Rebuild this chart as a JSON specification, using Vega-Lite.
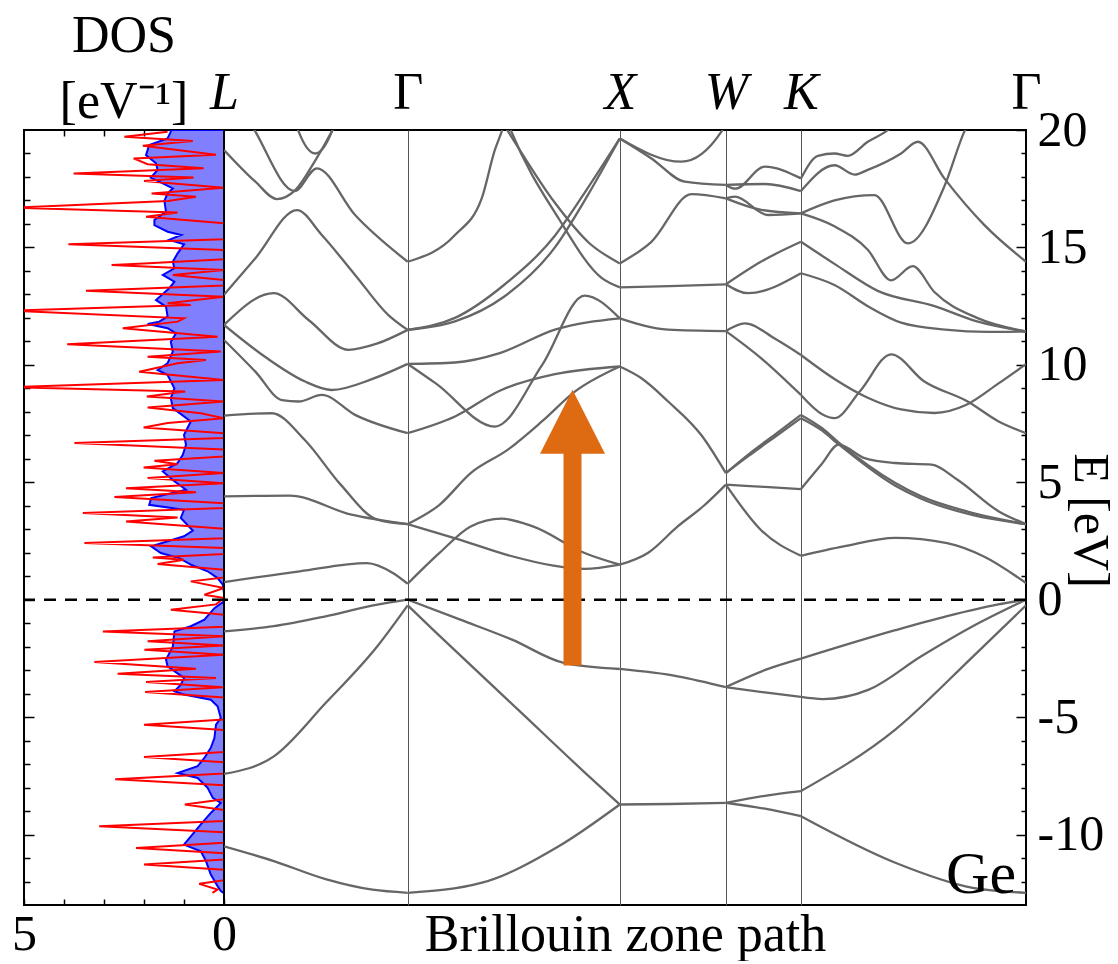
{
"$schema": "https://vega.github.io/schema/vega-lite/v6.json",
"background": "white",
"padding": {"left": 10, "top": 9, "right": 6, "bottom": 0},
"config": {
 "font": "Liberation Serif",
 "view": {"stroke": "black", "strokeWidth": 2},
 "axis": {"labelFont": "Liberation Serif", "titleFont": "Liberation Serif", "labelColor": "black", "titleColor": "black", "tickColor": "black", "tickWidth": 1.5, "domain": false, "grid": false, "labelFontSize": 50, "titleFontSize": 52, "titleFontWeight": "normal", "labelOverlap": false},
 "title": {"font": "Liberation Serif", "fontSize": 52, "fontWeight": "normal", "color": "black"}
},
"datasets": {
 "dosB": [
  {"E":20,"d":1.33},{"E":19.93,"d":1.33},{"E":19.64,"d":1.41},{"E":19.36,"d":1.87},{"E":18.93,"d":1.95},{"E":18.58,"d":1.7},{"E":18.3,"d":1.66},{"E":17.97,"d":1.83},{"E":17.73,"d":1.53},{"E":17.51,"d":1.28},{"E":17.3,"d":1.41},{"E":16.98,"d":1.49},{"E":16.52,"d":1.45},{"E":16.17,"d":1.74},{"E":15.95,"d":1.74},{"E":15.67,"d":1.41},{"E":15.53,"d":1.07},{"E":15.32,"d":1.37},{"E":15.13,"d":1.0},{"E":14.75,"d":1.16},{"E":14.39,"d":1.28},{"E":14.11,"d":1.24},{"E":13.83,"d":1.53},{"E":13.54,"d":1.24},{"E":13.26,"d":1.37},{"E":12.76,"d":1.7},{"E":12.48,"d":1.45},{"E":12.05,"d":1.41},{"E":11.84,"d":1.62},{"E":11.74,"d":1.91},{"E":11.56,"d":1.41},{"E":11.34,"d":1.2},{"E":10.99,"d":1.33},{"E":10.56,"d":1.28},{"E":10.07,"d":1.41},{"E":9.78,"d":1.66},{"E":9.57,"d":1.41},{"E":9.0,"d":1.24},{"E":8.58,"d":1.33},{"E":8.16,"d":1.28},{"E":7.59,"d":0.83},{"E":7.02,"d":1.0},{"E":6.6,"d":0.95},{"E":6.17,"d":1.03},{"E":5.82,"d":1.16},{"E":5.46,"d":1.53},{"E":5.04,"d":1.24},{"E":4.68,"d":0.95},{"E":4.33,"d":1.82},{"E":4.04,"d":1.87},{"E":3.83,"d":1.0},{"E":3.48,"d":1.08},{"E":2.94,"d":0.78},{"E":2.7,"d":1.0},{"E":2.27,"d":1.82},{"E":1.99,"d":1.58},{"E":1.77,"d":1.12},{"E":1.49,"d":0.83},{"E":1.21,"d":0.41},{"E":0.92,"d":0.16},{"E":0.64,"d":0.03},{"E":0.28,"d":0},{"E":-0.07,"d":0},{"E":-0.36,"d":0.24},{"E":-0.85,"d":0.49},{"E":-1.13,"d":0.83},{"E":-1.35,"d":1.24},{"E":-1.7,"d":1.26},{"E":-2.0,"d":1.28},{"E":-2.55,"d":1.45},{"E":-2.84,"d":1.41},{"E":-3.33,"d":1.0},{"E":-3.62,"d":1.08},{"E":-3.9,"d":1.24},{"E":-4.04,"d":1.0},{"E":-4.26,"d":0.33},{"E":-4.54,"d":0.16},{"E":-5.04,"d":0.08},{"E":-5.32,"d":0.2},{"E":-5.89,"d":0.24},{"E":-6.31,"d":0.33},{"E":-6.74,"d":0.49},{"E":-7.09,"d":0.66},{"E":-7.38,"d":1.16},{"E":-7.59,"d":0.66},{"E":-8.01,"d":0.41},{"E":-8.44,"d":0.28},{"E":-8.65,"d":0.08},{"E":-9.08,"d":0.33},{"E":-9.57,"d":0.58},{"E":-10.43,"d":1.0},{"E":-10.71,"d":0.58},{"E":-11.13,"d":0.45},{"E":-11.7,"d":0.33},{"E":-12.2,"d":0.16},{"E":-12.41,"d":0.08},{"E":-12.5,"d":0}
 ],
 "dosR": [
  {"E":19.93,"d":1.41},{"E":19.71,"d":2.49},{"E":19.53,"d":0.78},{"E":19.33,"d":2.03},{"E":18.95,"d":0.2},{"E":18.79,"d":2.26},{"E":18.54,"d":1.91},{"E":18.37,"d":0.51},{"E":18.15,"d":3.76},{"E":17.98,"d":0.76},{"E":17.83,"d":2.0},{"E":17.54,"d":0},{"E":17.3,"d":1.81},{"E":17.16,"d":0.7},{"E":16.98,"d":1.4},{"E":16.69,"d":5.3},{"E":16.49,"d":1.16},{"E":16.31,"d":1.95},{"E":16.03,"d":0},{"E":15.35,"d":0},{"E":15.13,"d":3.89},{"E":14.89,"d":0},{"E":14.5,"d":0},{"E":14.32,"d":2.0},{"E":14.25,"d":2.81},{"E":14.04,"d":0},{"E":13.83,"d":1.28},{"E":13.61,"d":0},{"E":13.38,"d":0},{"E":13.16,"d":3.45},{"E":12.9,"d":0},{"E":12.62,"d":1.41},{"E":12.55,"d":0.83},{"E":12.31,"d":5.3},{"E":11.98,"d":1.0},{"E":11.84,"d":1.16},{"E":11.56,"d":2.53},{"E":11.2,"d":0.16},{"E":10.88,"d":3.92},{"E":10.57,"d":0.08},{"E":10.35,"d":1.91},{"E":10.21,"d":0.45},{"E":10.07,"d":1.16},{"E":9.71,"d":2.12},{"E":9.35,"d":0},{"E":9.05,"d":5.3},{"E":8.87,"d":0.97},{"E":8.65,"d":1.93},{"E":8.44,"d":0},{"E":8.18,"d":1.91},{"E":7.94,"d":0.58},{"E":7.73,"d":0},{"E":7.52,"d":1.41},{"E":7.33,"d":2.01},{"E":7.09,"d":0},{"E":6.88,"d":0},{"E":6.67,"d":3.74},{"E":6.4,"d":0},{"E":6.1,"d":0},{"E":5.92,"d":1.74},{"E":5.77,"d":1.16},{"E":5.63,"d":2.01},{"E":5.39,"d":0},{"E":5.18,"d":1.91},{"E":4.96,"d":0},{"E":4.75,"d":2.45},{"E":4.58,"d":0.7},{"E":4.37,"d":2.74},{"E":4.11,"d":0},{"E":3.9,"d":0},{"E":3.69,"d":3.53},{"E":3.5,"d":1.16},{"E":3.33,"d":2.45},{"E":3.02,"d":0},{"E":2.62,"d":0},{"E":2.41,"d":3.49},{"E":2.2,"d":0},{"E":1.95,"d":0},{"E":1.8,"d":1.78},{"E":1.7,"d":1.0},{"E":1.52,"d":1.66},{"E":1.28,"d":0},{"E":0.95,"d":0},{"E":0.78,"d":0.83},{"E":0.5,"d":0},{"E":0.21,"d":0.49},{"E":0.07,"d":0},{"E":-0.2,"d":0.2},{"E":-0.43,"d":1.33},{"E":-0.64,"d":0},{"E":-1.15,"d":0},{"E":-1.35,"d":3.03},{"E":-1.56,"d":0},{"E":-1.77,"d":1.91},{"E":-1.95,"d":0},{"E":-2.13,"d":1.99},{"E":-2.34,"d":0},{"E":-2.65,"d":3.24},{"E":-2.94,"d":0.7},{"E":-3.15,"d":2.66},{"E":-3.33,"d":0.2},{"E":-3.5,"d":1.95},{"E":-3.73,"d":0.03},{"E":-3.93,"d":1.97},{"E":-4.16,"d":0},{"E":-5.1,"d":0},{"E":-5.32,"d":2.0},{"E":-5.55,"d":0},{"E":-6.48,"d":0},{"E":-6.7,"d":2.0},{"E":-6.92,"d":0},{"E":-7.4,"d":0},{"E":-7.65,"d":2.72},{"E":-7.9,"d":0},{"E":-8.5,"d":0},{"E":-8.72,"d":0.98},{"E":-8.95,"d":0},{"E":-9.42,"d":0},{"E":-9.65,"d":3.12},{"E":-9.9,"d":0},{"E":-10.35,"d":0},{"E":-10.57,"d":2.2},{"E":-10.8,"d":0},{"E":-11.06,"d":0},{"E":-11.28,"d":2.0},{"E":-11.5,"d":0},{"E":-11.95,"d":0},{"E":-12.1,"d":0.62},{"E":-12.34,"d":0.16},{"E":-12.48,"d":0.29}
 ],
 "bands": [
  {"s":"v1a","k":0,"E":-10.5},{"s":"v1a","k":0.235,"E":-11.13},{"s":"v1a","k":0.479,"E":-11.9},{"s":"v1a","k":0.7,"E":-12.35},{"s":"v1a","k":0.866,"E":-12.48},
  {"s":"v2a","k":0,"E":-7.42},{"s":"v2a","k":0.235,"E":-6.67},{"s":"v2a","k":0.479,"E":-4.4},{"s":"v2a","k":0.723,"E":-1.98},{"s":"v2a","k":0.866,"E":-0.24},
  {"s":"v3a","k":0,"E":-1.35},{"s":"v3a","k":0.235,"E":-1.13},{"s":"v3a","k":0.479,"E":-0.71},{"s":"v3a","k":0.723,"E":-0.21},{"s":"v3a","k":0.866,"E":0},
  {"s":"c1a","k":0,"E":0.75},{"s":"c1a","k":0.357,"E":1.21},{"s":"c1a","k":0.674,"E":1.56},{"s":"c1a","k":0.796,"E":1.14},{"s":"c1a","k":0.866,"E":0.68},
  {"s":"c2a","k":0,"E":4.4},{"s":"c2a","k":0.308,"E":4.43},{"s":"c2a","k":0.601,"E":3.62},{"s":"c2a","k":0.866,"E":3.22},
  {"s":"ga","k":0,"E":7.84},{"s":"ga","k":0.226,"E":7.94},{"s":"ga","k":0.38,"E":6.81},{"s":"ga","k":0.55,"E":4.9},{"s":"ga","k":0.723,"E":3.41},{"s":"ga","k":0.866,"E":3.22},
  {"s":"fa","k":0,"E":11.06},{"s":"fa","k":0.148,"E":9.71},{"s":"fa","k":0.273,"E":8.5},{"s":"fa","k":0.352,"E":8.44},{"s":"fa","k":0.461,"E":8.72},{"s":"fa","k":0.618,"E":7.87},{"s":"fa","k":0.866,"E":7.09},
  {"s":"ea","k":0,"E":11.7},{"s":"ea","k":0.2,"E":10.3},{"s":"ea","k":0.38,"E":9.3},{"s":"ea","k":0.508,"E":8.93},{"s":"ea","k":0.7,"E":9.4},{"s":"ea","k":0.866,"E":10.04},
  {"s":"da","k":0,"E":11.7},{"s":"da","k":0.234,"E":13.05},{"s":"da","k":0.4,"E":11.9},{"s":"da","k":0.587,"E":10.64},{"s":"da","k":0.72,"E":10.9},{"s":"da","k":0.866,"E":11.49},
  {"s":"ca","k":0,"E":12.98},{"s":"ca","k":0.148,"E":14.54},{"s":"ca","k":0.344,"E":16.59},{"s":"ca","k":0.461,"E":15.53},{"s":"ca","k":0.618,"E":13.83},{"s":"ca","k":0.775,"E":12.12},{"s":"ca","k":0.866,"E":11.49},
  {"s":"u2a","k":0.1,"E":20.7},{"s":"u2a","k":0.148,"E":19.93},{"s":"u2a","k":0.333,"E":17.4},{"s":"u2a","k":0.438,"E":18.37},{"s":"u2a","k":0.618,"E":16.38},{"s":"u2a","k":0.866,"E":14.39},
  {"s":"u1a","k":0,"E":19.15},{"s":"u1a","k":0.148,"E":17.8},{"s":"u1a","k":0.249,"E":17.06},{"s":"u1a","k":0.336,"E":17.44},{"s":"u1a","k":0.43,"E":18.7},{"s":"u1a","k":0.508,"E":19.93},{"s":"u1a","k":0.54,"E":20.5},
  {"s":"u3a","k":0.33,"E":20.5},{"s":"u3a","k":0.352,"E":19.93},{"s":"u3a","k":0.43,"E":19.0},{"s":"u3a","k":0.508,"E":19.93},{"s":"u3a","k":0.53,"E":20.5},
  {"s":"v1b","k":0.866,"E":-12.48},{"s":"v1b","k":1.212,"E":-12.06},{"s":"v1b","k":1.578,"E":-10.5},{"s":"v1b","k":1.866,"E":-8.72},
  {"s":"v2b","k":0.866,"E":-0.24},{"s":"v2b","k":1.0,"E":-1.4},{"s":"v2b","k":1.4,"E":-4.8},{"s":"v2b","k":1.7,"E":-7.35},{"s":"v2b","k":1.866,"E":-8.72},
  {"s":"v3b","k":0.866,"E":0},{"s":"v3b","k":1.114,"E":-0.85},{"s":"v3b","k":1.358,"E":-1.7},{"s":"v3b","k":1.602,"E":-2.69},{"s":"v3b","k":1.866,"E":-2.95},
  {"s":"c1b","k":0.866,"E":0.68},{"s":"c1b","k":1.016,"E":1.99},{"s":"c1b","k":1.163,"E":3.12},{"s":"c1b","k":1.309,"E":3.45},{"s":"c1b","k":1.456,"E":3.12},{"s":"c1b","k":1.7,"E":1.99},{"s":"c1b","k":1.866,"E":1.49},
  {"s":"c2b","k":0.866,"E":3.22},{"s":"c2b","k":1.114,"E":2.55},{"s":"c2b","k":1.358,"E":1.85},{"s":"c2b","k":1.553,"E":1.45},{"s":"c2b","k":1.7,"E":1.31},{"s":"c2b","k":1.866,"E":1.49},
  {"s":"c3b","k":0.866,"E":3.22},{"s":"c3b","k":1.016,"E":4.04},{"s":"c3b","k":1.163,"E":5.39},{"s":"c3b","k":1.34,"E":6.4},{"s":"c3b","k":1.5,"E":7.6},{"s":"c3b","k":1.654,"E":8.86},{"s":"c3b","k":1.866,"E":9.93},
  {"s":"fb","k":0.866,"E":7.09},{"s":"fb","k":1.089,"E":7.8},{"s":"fb","k":1.3,"E":8.9},{"s":"fb","k":1.56,"E":9.6},{"s":"fb","k":1.866,"E":9.93},
  {"s":"eb","k":0.866,"E":10.04},{"s":"eb","k":1.089,"E":10.1},{"s":"eb","k":1.3,"E":10.5},{"s":"eb","k":1.56,"E":11.5},{"s":"eb","k":1.866,"E":11.98},
  {"s":"db","k":0.866,"E":10.04},{"s":"db","k":1.0,"E":9.2},{"s":"db","k":1.277,"E":7.37},{"s":"db","k":1.5,"E":10.0},{"s":"db","k":1.7,"E":12.95},{"s":"db","k":1.866,"E":11.98},
  {"s":"cb1","k":0.866,"E":11.49},{"s":"cb1","k":1.089,"E":12.0},{"s":"cb1","k":1.32,"E":13.4},{"s":"cb1","k":1.56,"E":15.5},{"s":"cb1","k":1.72,"E":17.6},{"s":"cb1","k":1.866,"E":19.64},
  {"s":"cb2","k":0.866,"E":11.49},{"s":"cb2","k":1.089,"E":11.85},{"s":"cb2","k":1.32,"E":12.9},{"s":"cb2","k":1.56,"E":15.0},{"s":"cb2","k":1.72,"E":17.3},{"s":"cb2","k":1.866,"E":19.64},
  {"s":"u2b","k":0.866,"E":14.39},{"s":"u2b","k":1.089,"E":15.53},{"s":"u2b","k":1.215,"E":17.09},{"s":"u2b","k":1.277,"E":19.15},{"s":"u2b","k":1.309,"E":19.93},{"s":"u2b","k":1.33,"E":20.5},
  {"s":"t1b","k":1.3,"E":20.5},{"s":"t1b","k":1.34,"E":19.93},{"s":"t1b","k":1.56,"E":16.9},{"s":"t1b","k":1.72,"E":15.2},{"s":"t1b","k":1.866,"E":14.32},
  {"s":"t2b","k":1.33,"E":20.5},{"s":"t2b","k":1.355,"E":19.93},{"s":"t2b","k":1.58,"E":16.2},{"s":"t2b","k":1.78,"E":13.7},{"s":"t2b","k":1.866,"E":13.3},
  {"s":"v1c","k":1.866,"E":-8.72},{"s":"v1c","k":2.1,"E":-8.7},{"s":"v1c","k":2.366,"E":-8.65},
  {"s":"v3c","k":1.866,"E":-2.95},{"s":"v3c","k":2.139,"E":-3.26},{"s":"v3c","k":2.366,"E":-3.72},
  {"s":"c1c","k":1.866,"E":1.49},{"s":"c1c","k":2.0,"E":2.0},{"s":"c1c","k":2.139,"E":3.12},{"s":"c1c","k":2.262,"E":4.0},{"s":"c1c","k":2.366,"E":4.9},
  {"s":"c3c","k":1.866,"E":9.93},{"s":"c3c","k":1.968,"E":9.43},{"s":"c3c","k":2.094,"E":8.44},{"s":"c3c","k":2.251,"E":7.0},{"s":"c3c","k":2.366,"E":5.39},
  {"s":"ec","k":1.866,"E":11.98},{"s":"ec","k":2.094,"E":11.5},{"s":"ec","k":2.366,"E":11.44},
  {"s":"t2c","k":1.866,"E":13.3},{"s":"t2c","k":2.1,"E":13.35},{"s":"t2c","k":2.366,"E":13.43},
  {"s":"t1c","k":1.866,"E":14.32},{"s":"t1c","k":2.015,"E":15.24},{"s":"t1c","k":2.204,"E":17.27},{"s":"t1c","k":2.366,"E":17.09},
  {"s":"cc1","k":1.866,"E":19.64},{"s":"cc1","k":2.015,"E":18.79},{"s":"cc1","k":2.172,"E":17.8},{"s":"cc1","k":2.366,"E":17.66},
  {"s":"cc2","k":1.866,"E":19.64},{"s":"cc2","k":2.156,"E":18.65},{"s":"cc2","k":2.345,"E":19.93},{"s":"cc2","k":2.38,"E":20.5},
  {"s":"v1d1","k":2.366,"E":-8.65},{"s":"v1d1","k":2.55,"E":-8.9},{"s":"v1d1","k":2.72,"E":-9.22},
  {"s":"v1d2","k":2.366,"E":-8.65},{"s":"v1d2","k":2.55,"E":-8.35},{"s":"v1d2","k":2.72,"E":-8.15},
  {"s":"v3d1","k":2.366,"E":-3.72},{"s":"v3d1","k":2.55,"E":-3.95},{"s":"v3d1","k":2.72,"E":-4.14},
  {"s":"v3d2","k":2.366,"E":-3.72},{"s":"v3d2","k":2.555,"E":-2.98},{"s":"v3d2","k":2.72,"E":-2.51},
  {"s":"c1d1","k":2.366,"E":4.9},{"s":"c1d1","k":2.53,"E":2.98},{"s":"c1d1","k":2.72,"E":1.87},
  {"s":"c1d2","k":2.366,"E":4.9},{"s":"c1d2","k":2.55,"E":4.8},{"s":"c1d2","k":2.72,"E":4.71},
  {"s":"c3d1","k":2.366,"E":5.39},{"s":"c3d1","k":2.47,"E":6.17},{"s":"c3d1","k":2.6,"E":7.05},{"s":"c3d1","k":2.72,"E":7.87},
  {"s":"c3d2","k":2.366,"E":5.39},{"s":"c3d2","k":2.47,"E":6.1},{"s":"c3d2","k":2.6,"E":6.95},{"s":"c3d2","k":2.72,"E":7.73},
  {"s":"ed1","k":2.366,"E":11.44},{"s":"ed1","k":2.455,"E":11.77},{"s":"ed1","k":2.6,"E":11.1},{"s":"ed1","k":2.72,"E":10.42},
  {"s":"ed2","k":2.366,"E":11.44},{"s":"ed2","k":2.533,"E":10.28},{"s":"ed2","k":2.72,"E":8.72},
  {"s":"t2d1","k":2.366,"E":13.43},{"s":"t2d1","k":2.47,"E":13.05},{"s":"t2d1","k":2.72,"E":13.9},
  {"s":"t2d2","k":2.366,"E":13.43},{"s":"t2d2","k":2.533,"E":14.4},{"s":"t2d2","k":2.72,"E":15.24},
  {"s":"t1d1","k":2.366,"E":17.09},{"s":"t1d1","k":2.408,"E":17.16},{"s":"t1d1","k":2.565,"E":16.38},{"s":"t1d1","k":2.72,"E":16.45},
  {"s":"t1d2","k":2.366,"E":17.09},{"s":"t1d2","k":2.533,"E":16.6},{"s":"t1d2","k":2.72,"E":16.45},
  {"s":"cd1","k":2.366,"E":17.66},{"s":"cd1","k":2.41,"E":17.5},{"s":"cd1","k":2.549,"E":18.44},{"s":"cd1","k":2.72,"E":17.94},
  {"s":"cd2","k":2.366,"E":17.66},{"s":"cd2","k":2.55,"E":17.7},{"s":"cd2","k":2.72,"E":17.4},
  {"s":"v1e","k":2.72,"E":-9.22},{"s":"v1e","k":3.165,"E":-11.2},{"s":"v1e","k":3.53,"E":-12.27},{"s":"v1e","k":3.781,"E":-12.48},
  {"s":"v2e","k":2.72,"E":-8.15},{"s":"v2e","k":3.165,"E":-5.53},{"s":"v2e","k":3.532,"E":-2.41},{"s":"v2e","k":3.781,"E":-0.24},
  {"s":"v3e1","k":2.72,"E":-4.14},{"s":"v3e1","k":2.823,"E":-4.23},{"s":"v3e1","k":3.04,"E":-3.83},{"s":"v3e1","k":3.287,"E":-2.41},{"s":"v3e1","k":3.53,"E":-1.13},{"s":"v3e1","k":3.781,"E":0},
  {"s":"v3e2","k":2.72,"E":-2.51},{"s":"v3e2","k":3.165,"E":-1.3},{"s":"v3e2","k":3.409,"E":-0.7},{"s":"v3e2","k":3.65,"E":-0.2},{"s":"v3e2","k":3.781,"E":0},
  {"s":"c1e","k":2.72,"E":1.87},{"s":"c1e","k":2.921,"E":2.27},{"s":"c1e","k":3.165,"E":2.63},{"s":"c1e","k":3.409,"E":2.41},{"s":"c1e","k":3.58,"E":1.85},{"s":"c1e","k":3.781,"E":0.71},
  {"s":"c2e","k":2.72,"E":4.71},{"s":"c2e","k":2.82,"E":5.8},{"s":"c2e","k":2.897,"E":6.6},{"s":"c2e","k":3.02,"E":6.03},{"s":"c2e","k":3.165,"E":5.82},{"s":"c2e","k":3.336,"E":5.75},{"s":"c2e","k":3.458,"E":5.11},{"s":"c2e","k":3.653,"E":3.76},{"s":"c2e","k":3.781,"E":3.22},
  {"s":"c3e1","k":2.72,"E":7.87},{"s":"c3e1","k":2.82,"E":7.3},{"s":"c3e1","k":2.897,"E":6.7},{"s":"c3e1","k":3.165,"E":4.97},{"s":"c3e1","k":3.287,"E":4.4},{"s":"c3e1","k":3.532,"E":3.69},{"s":"c3e1","k":3.781,"E":3.22},
  {"s":"c3e2","k":2.72,"E":7.73},{"s":"c3e2","k":2.82,"E":7.2},{"s":"c3e2","k":2.897,"E":6.62},{"s":"c3e2","k":3.165,"E":4.85},{"s":"c3e2","k":3.287,"E":4.3},{"s":"c3e2","k":3.532,"E":3.6},{"s":"c3e2","k":3.781,"E":3.22},
  {"s":"ba","k":2.72,"E":10.42},{"s":"ba","k":2.878,"E":9.4},{"s":"ba","k":3.035,"E":8.6},{"s":"ba","k":3.192,"E":8.1},{"s":"ba","k":3.349,"E":7.95},{"s":"ba","k":3.5,"E":8.3},{"s":"ba","k":3.65,"E":9.2},{"s":"ba","k":3.781,"E":10.03},
  {"s":"bb","k":2.72,"E":8.72},{"s":"bb","k":2.82,"E":7.9},{"s":"bb","k":2.878,"E":7.73},{"s":"bb","k":3.0,"E":8.9},{"s":"bb","k":3.145,"E":10.45},{"s":"bb","k":3.3,"E":9.3},{"s":"bb","k":3.506,"E":8.44},{"s":"bb","k":3.65,"E":7.6},{"s":"bb","k":3.781,"E":7.09},
  {"s":"h6","k":2.72,"E":13.9},{"s":"h6","k":2.878,"E":13.4},{"s":"h6","k":3.035,"E":12.5},{"s":"h6","k":3.192,"E":11.8},{"s":"h6","k":3.4,"E":11.5},{"s":"h6","k":3.6,"E":11.4},{"s":"h6","k":3.781,"E":11.42},
  {"s":"h5","k":2.72,"E":15.24},{"s":"h5","k":2.878,"E":14.3},{"s":"h5","k":3.082,"E":13.15},{"s":"h5","k":3.35,"E":12.5},{"s":"h5","k":3.55,"E":11.85},{"s":"h5","k":3.781,"E":11.42},
  {"s":"h4","k":2.72,"E":16.45},{"s":"h4","k":2.878,"E":15.9},{"s":"h4","k":3.035,"E":14.9},{"s":"h4","k":3.145,"E":13.6},{"s":"h4","k":3.247,"E":14.2},{"s":"h4","k":3.349,"E":13.1},{"s":"h4","k":3.55,"E":12.0},{"s":"h4","k":3.781,"E":11.42},
  {"s":"h3","k":2.72,"E":16.45},{"s":"h3","k":2.878,"E":17.0},{"s":"h3","k":3.066,"E":17.23},{"s":"h3","k":3.224,"E":15.17},{"s":"h3","k":3.396,"E":17.6},{"s":"h3","k":3.49,"E":19.93},{"s":"h3","k":3.52,"E":20.5},
  {"s":"h2","k":2.72,"E":17.4},{"s":"h2","k":2.878,"E":18.5},{"s":"h2","k":2.973,"E":18.1},{"s":"h2","k":3.035,"E":18.3},{"s":"h2","k":3.192,"E":19.0},{"s":"h2","k":3.271,"E":19.5},{"s":"h2","k":3.396,"E":17.94},{"s":"h2","k":3.585,"E":15.95},{"s":"h2","k":3.781,"E":14.39},
  {"s":"h1","k":2.72,"E":17.94},{"s":"h1","k":2.8,"E":18.9},{"s":"h1","k":2.878,"E":19.0},{"s":"h1","k":2.941,"E":18.9},{"s":"h1","k":3.035,"E":19.5},{"s":"h1","k":3.114,"E":19.9},{"s":"h1","k":3.2,"E":20.5}
 ],
 "arrow": [{"k":1.643,"E0":-2.8,"E1":6.4,"Eh":7.6}],
 "label": [{"k":3.569,"E":-12.47,"t":"Ge"}]
},
"spacing": 0,
"bounds": "flush",
"hconcat": [
 {
  "width": 200, "height": 775,
  "title": {"text": ["DOS", "[eV⁻¹]"], "lineHeight": 66, "anchor": "middle", "offset": 0},
  "layer": [
   {"data": {"name": "dosB"},
    "mark": {"type": "area", "orient": "horizontal", "fill": "#8080ff", "stroke": "#0000ff", "strokeWidth": 2, "clip": true},
    "encoding": {
     "x": {"field": "d", "type": "quantitative", "stack": null, "scale": {"domain": [0, 5], "reverse": true, "nice": false},
       "axis": {"orient": "bottom", "values": [0,1,2,3,4,5], "labelExpr": "datum.value == 0 || datum.value == 5 ? datum.label : ''", "tickSize": -6, "labelPadding": 50, "labelBaseline": "alphabetic", "labelFlush": false, "labelOverlap": false, "title": null}},
     "y": {"field": "E", "type": "quantitative", "scale": {"domain": [-13, 20], "nice": false, "zero": false},
       "axis": {"orient": "left", "values": [-12,-11,-10,-9,-8,-7,-6,-5,-4,-3,-2,-1,0,1,2,3,4,5,6,7,8,9,10,11,12,13,14,15,16,17,18,19], "labels": false, "tickSize": {"condition": {"test": "datum.value % 5 === 0", "value": -10}, "value": -6}, "title": null}}
    }},
   {"data": {"name": "dosR"},
    "mark": {"type": "line", "color": "#ff0000", "strokeWidth": 2, "clip": true},
    "encoding": {
     "x": {"field": "d", "type": "quantitative", "axis": {"orient": "top", "values": [1,2,3,4], "labels": false, "tickSize": -6, "title": null}},
     "y": {"field": "E", "type": "quantitative", "axis": null},
     "order": {"field": "E", "type": "quantitative"}
    }},
   {"data": {"values": [{}]},
    "mark": {"type": "rule", "strokeDash": [12, 9], "strokeWidth": 2.5, "color": "black"},
    "encoding": {"y": {"datum": 0, "type": "quantitative", "axis": null}}}
  ],
  "resolve": {"axis": {"x": "independent", "y": "independent"}}
 },
 {
  "width": 802, "height": 775,
  "layer": [
   {"data": {"name": "bands"},
    "mark": {"type": "line", "color": "#666666", "strokeWidth": 2.3, "interpolate": "monotone", "clip": true},
    "encoding": {
     "x": {"field": "k", "type": "quantitative", "scale": {"domain": [0, 3.781], "nice": false, "zero": false},
       "axis": {"orient": "top", "values": [0, 0.866, 1.866, 2.366, 2.72, 3.781],
         "labelExpr": "datum.value < 0.5 ? 'L' : datum.value < 1 ? 'Γ' : datum.value < 2 ? 'X' : datum.value < 2.5 ? 'W' : datum.value < 3 ? 'K' : 'Γ'",
         "labelFontStyle": {"condition": {"test": "(datum.value > 0.5 && datum.value < 1) || datum.value > 3", "value": "normal"}, "value": "italic"},
         "labelFontSize": 52, "ticks": false, "grid": true, "gridColor": "#555555", "gridWidth": 1,
         "gridOpacity": {"condition": {"test": "datum.value < 0.1 || datum.value > 3.7", "value": 0}, "value": 1},
         "labelPadding": 22, "labelBaseline": "alphabetic", "labelFlush": false, "labelOverlap": false, "labelBound": false, "title": null}},
     "y": {"field": "E", "type": "quantitative", "scale": {"domain": [-13, 20], "nice": false, "zero": false},
       "axis": {"orient": "right", "values": [-12,-11,-10,-9,-8,-7,-6,-5,-4,-3,-2,-1,0,1,2,3,4,5,6,7,8,9,10,11,12,13,14,15,16,17,18,19,20],
         "labelExpr": "datum.value % 5 === 0 ? '' + datum.value : ''",
         "tickSize": {"condition": {"test": "datum.value % 5 === 0", "value": -10}, "value": -5},
         "labelPadding": 21, "labelAlign": "left", "labelBaseline": "middle", "labelOverlap": false, "labelBound": false, "labelFlush": false,
         "title": "E [eV]", "titleFontSize": 50, "titleAngle": 90, "titleX": 48, "titleY": 390, "titleAlign": "center", "titleBaseline": "alphabetic"}},
     "detail": {"field": "s", "type": "nominal"}
    }},
   {"data": {"values": [{}]},
    "mark": {"type": "rule", "strokeDash": [12, 9], "strokeWidth": 2.5, "color": "black"},
    "encoding": {"y": {"datum": 0, "type": "quantitative", "axis": null}}},
   {"data": {"name": "arrow"},
    "mark": {"type": "rule", "color": "#DE6A12", "strokeWidth": 18, "strokeCap": "butt"},
    "encoding": {
     "x": {"field": "k", "type": "quantitative", "axis": null},
     "y": {"field": "E0", "type": "quantitative", "axis": null},
     "y2": {"field": "E1"}
    }},
   {"data": {"name": "arrow"},
    "mark": {"type": "point", "shape": "M0,-0.97L1,1L-1,1Z", "filled": true, "color": "#DE6A12", "opacity": 1, "size": 4225},
    "encoding": {
     "x": {"field": "k", "type": "quantitative", "axis": null},
     "y": {"field": "Eh", "type": "quantitative", "axis": null}
    }},
   {"data": {"name": "label"},
    "mark": {"type": "text", "font": "Liberation Serif", "fontSize": 60, "align": "center", "baseline": "alphabetic", "color": "black"},
    "encoding": {
     "x": {"field": "k", "type": "quantitative",
       "axis": {"orient": "bottom", "labels": false, "ticks": false, "domain": false, "title": "Brillouin zone path", "titleFontSize": 52, "titleBaseline": "alphabetic", "titlePadding": 45}},
     "y": {"field": "E", "type": "quantitative", "axis": null},
     "text": {"field": "t"}
    }}
  ],
  "resolve": {"axis": {"x": "independent", "y": "independent"}}
 }
]
}
